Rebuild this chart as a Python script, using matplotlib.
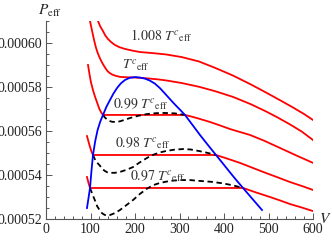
import matplotlib
matplotlib.use('Agg')
import matplotlib.pyplot as plt
from matplotlib.ticker import MultipleLocator, FuncFormatter

plt.rcParams['font.family'] = ['Liberation Serif', 'DejaVu Serif']
plt.rcParams['mathtext.fontset'] = 'stix'

# isotherms (V, P_eff)
t1008_v = [116.8, 122.0, 128.1, 133.0, 139.3, 147.0, 155.0, 165.0, 177.5, 195.0, 211.2, 240.0,
           269.6, 305.0, 343.8, 380.0, 420.2, 460.0, 494.3, 525.0, 555.0, 580.0, 600.0]
t1008_p = [0.000610, 0.0006075, 0.0006054, 0.0006035, 0.0006018, 0.0006003, 0.0005991,
           0.0005981, 0.0005973, 0.0005965, 0.0005959, 0.0005954, 0.0005948, 0.0005936,
           0.0005916, 0.0005887, 0.0005852, 0.0005812, 0.0005775, 0.0005741, 0.0005707,
           0.0005677, 0.000565]

tc_v = [98.9, 102.0, 105.6, 109.0, 112.4, 116.5, 121.3, 126.0, 130.3, 135.0, 139.3, 145.0,
        150.5, 158.0, 166.3, 183.0, 200.0, 217.0, 233.7, 250.0, 269.6, 305.0, 343.8, 380.0,
        420.2, 460.0, 494.3, 520.0, 548.3, 575.0, 600.0]
tc_p = [0.000610, 0.000607, 0.0006036, 0.0006005, 0.0005978, 0.0005953, 0.000593, 0.0005911,
        0.0005896, 0.0005881, 0.000587, 0.0005861, 0.0005855, 0.000585, 0.0005846, 0.0005844,
        0.0005843, 0.0005841, 0.0005838, 0.0005835, 0.000583, 0.0005818, 0.0005801,
        0.0005781, 0.0005755, 0.0005722, 0.0005689, 0.0005662, 0.000563, 0.0005597, 0.0005559]

t099_v = [94.4, 98.0, 101.0, 105.6, 110.0, 116.8, 120.0, 123.6, 128.1, 312.3, 330.0, 343.8,
          368.5, 390.0, 413.4, 435.0, 458.4, 490.0, 525.8, 560.0, 600.0]
t099_p = [0.00059, 0.0005855, 0.0005822, 0.0005786, 0.0005757, 0.0005718, 0.00057, 0.0005686,
          0.0005673, 0.0005673, 0.0005664, 0.0005656, 0.0005641, 0.0005626, 0.0005609,
          0.0005596, 0.0005582, 0.0005556, 0.0005523, 0.0005491, 0.0005455]
t099_dash_v = [128.1, 132.0, 137.1, 142.0, 148.3, 156.0, 166.3, 177.0, 188.7, 207.0, 227.0,
               247.0, 267.4, 290.0, 312.3]
t099_dash_p = [0.0005673, 0.0005662, 0.0005653, 0.0005646, 0.0005642, 0.0005641, 0.0005644,
               0.0005651, 0.0005659, 0.0005669, 0.0005677, 0.0005681, 0.0005682, 0.000568,
               0.0005673]

t098_v = [92.1, 95.5, 98.9, 102.0, 105.6, 382.0, 408.0, 435.9, 465.0, 494.3, 521.0, 548.3,
          575.0, 600.0]
t098_p = [0.0005577, 0.0005552, 0.0005527, 0.0005508, 0.0005491, 0.0005491, 0.0005474,
          0.0005455, 0.0005432, 0.0005409, 0.0005389, 0.0005368, 0.000535, 0.0005332]
t098_dash_v = [105.6, 110.0, 115.0, 121.3, 126.0, 132.6, 138.0, 143.8, 155.0, 166.3, 180.0,
               195.5, 209.0, 222.5, 234.0, 244.9, 257.0, 269.6, 288.0, 307.8, 325.0, 343.8,
               362.0, 382.0]
t098_dash_p = [0.0005491, 0.0005471, 0.0005456, 0.0005442, 0.0005428, 0.0005418, 0.0005412,
               0.000541, 0.000541, 0.0005414, 0.0005423, 0.0005436, 0.0005455, 0.0005472,
               0.0005486, 0.0005495, 0.0005503, 0.0005509, 0.0005515, 0.0005518, 0.0005516,
               0.0005509, 0.0005501, 0.0005491]

t097_v = [92.1, 95.5, 98.9, 442.7, 473.0, 503.3, 525.0, 548.3, 575.0, 600.0]
t097_p = [0.0005391, 0.0005364, 0.0005341, 0.0005341, 0.000532, 0.00053, 0.0005285, 0.0005268,
          0.0005252, 0.0005236]
t097_dash_v = [98.9, 104.0, 110.1, 115.0, 121.3, 126.0, 132.6, 138.0, 143.8, 155.0, 166.3,
               180.0, 195.5, 211.0, 227.0, 241.0, 256.2, 278.0, 301.1, 323.0, 346.0, 372.0,
               397.7, 420.0, 442.7]
t097_dash_p = [0.0005341, 0.0005314, 0.0005284, 0.0005258, 0.0005238, 0.0005226, 0.0005218,
               0.0005216, 0.0005218, 0.0005227, 0.0005241, 0.0005262, 0.0005286, 0.0005314,
               0.0005338, 0.0005354, 0.0005364, 0.0005373, 0.0005377, 0.0005377, 0.0005373,
               0.0005369, 0.0005362, 0.0005353, 0.0005341]

# coexistence curve
coex_v = [92.1, 95.5, 98.9, 102.0, 105.6, 110.5, 116.0, 122.0, 128.1, 136.0, 143.8, 151.5,
          159.5, 168.0, 177.5, 188.5, 200.0, 211.0, 222.5, 233.5, 244.9, 256.0, 267.4, 278.5,
          289.9, 301.0, 312.3, 329.0, 346.0, 364.0, 382.0, 398.0, 413.4, 428.0, 442.7, 464.0,
          485.4]
coex_p = [0.000525, 0.0005295, 0.0005341, 0.0005415, 0.0005491, 0.0005553, 0.0005605,
          0.0005643, 0.0005673, 0.0005711, 0.0005741, 0.000577, 0.0005795, 0.0005816,
          0.0005832, 0.0005842, 0.0005845, 0.0005843, 0.0005838, 0.0005829, 0.0005815,
          0.0005795, 0.000577, 0.0005745, 0.000572, 0.0005697, 0.0005673, 0.0005628,
          0.0005582, 0.0005536, 0.0005491, 0.0005451, 0.0005412, 0.0005376, 0.0005341,
          0.0005291, 0.0005241]

labels = [r'$1.008\ T^{c}{}_{\mathrm{eff}}$', r'$T^{c}{}_{\mathrm{eff}}$',
          r'$0.99\ T^{c}{}_{\mathrm{eff}}$', r'$0.98\ T^{c}{}_{\mathrm{eff}}$',
          r'$0.97\ T^{c}{}_{\mathrm{eff}}$']
label_v = [188.7, 170.0, 151.0, 155.0, 188.7]
label_p = [0.0006014, 0.0005882, 0.0005705, 0.0005527, 0.0005375]

fig = plt.figure(figsize=(3.32, 2.4), dpi=100)
ax = fig.add_axes([46 / 332, 21 / 240, 267 / 332, 198 / 240])

lw = 1.3
for v, p in [(t1008_v, t1008_p), (tc_v, tc_p), (t099_v, t099_p), (t098_v, t098_p), (t097_v, t097_p)]:
    ax.plot(v, p, color='#ff0000', lw=lw)
for v, p in [(t099_dash_v, t099_dash_p), (t098_dash_v, t098_dash_p), (t097_dash_v, t097_dash_p)]:
    ax.plot(v, p, color='black', lw=lw, dashes=(3, 2))
ax.plot(coex_v, coex_p, color='#0000ff', lw=lw)

for s, v, p in zip(labels, label_v, label_p):
    ax.text(v, p, s, fontsize=10, color='#333333', ha='left', va='baseline')

ax.set_xlim(0, 600)
ax.set_ylim(0.00052, 0.00061)
ax.spines['top'].set_visible(False)
ax.spines['right'].set_visible(False)
for sp in ['left', 'bottom']:
    ax.spines[sp].set_color('#555555')
    ax.spines[sp].set_linewidth(0.8)

ax.xaxis.set_major_locator(MultipleLocator(100))
ax.xaxis.set_minor_locator(MultipleLocator(20))
ax.yaxis.set_major_locator(MultipleLocator(0.00002))
ax.yaxis.set_minor_locator(MultipleLocator(0.000005))
ax.yaxis.set_major_formatter(FuncFormatter(lambda y, pos: '%.5f' % y))
ax.tick_params(which='both', direction='in', colors='#555555', labelcolor='#222222',
               labelsize=10, width=0.7)
ax.tick_params(which='major', length=4, pad=3)
ax.tick_params(which='minor', length=2)

fig.text(38 / 332, 1 - 15 / 240, r'$P_{\mathrm{eff}}$', fontsize=11, color='#222222',
         ha='left', va='baseline')
fig.text(319 / 332, 17 / 240, r'$V$', fontsize=11, color='#222222', ha='left', va='baseline')

fig.savefig('out.png', dpi=100)
